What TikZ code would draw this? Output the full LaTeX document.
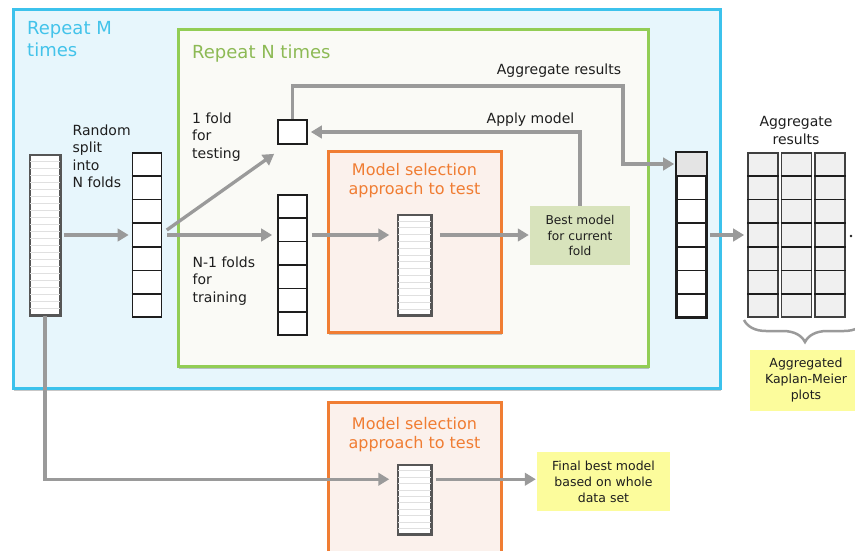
\documentclass[tikz,border=0pt]{standalone}
\usepackage{fontspec}
\setmainfont{DejaVu Sans}
\usetikzlibrary{arrows.meta,calc,shadows,decorations.pathreplacing}

\definecolor{outerblue}{HTML}{3CC2EC}
\definecolor{outerfill}{HTML}{E7F6FC}
\definecolor{innergreen}{HTML}{92CD55}
\definecolor{innerfill}{HTML}{FAFAF6}
\definecolor{selorange}{HTML}{F07D33}
\definecolor{selfill}{HTML}{FBF1EC}
\definecolor{bestfill}{HTML}{D8E3BC}
\definecolor{noteyellow}{HTML}{FCFC9C}
\definecolor{arrowgray}{HTML}{9A9A9A}
\definecolor{aggfill}{HTML}{F0F0F0}
\definecolor{firstfold}{HTML}{E4E4E4}
\definecolor{stripe}{HTML}{E0E0E0}
\definecolor{repM}{HTML}{43C3EA}
\definecolor{repN}{HTML}{8DBA55}
\definecolor{ink}{HTML}{1E1E1E}

% horizontal dividers splitting a column node into equal cells
\newcommand{\splitcells}[3][ink]{%
  \pgfmathtruncatemacro{\lastcut}{#3-1}%
  \foreach \k in {1,...,\lastcut}
    \draw[draw=#1,line width=1.7pt]
      ($(#2.north west)!\k/#3!(#2.south west)$) -- ($(#2.north east)!\k/#3!(#2.south east)$);}
% thin record lines inside a data column
\newcommand{\stripecells}[2]{%
  \foreach \k in {1,...,#2}
    \draw[stripe,line width=0.7pt]
      ($(#1.north west)!\k/(#2+1)!(#1.south west)$) -- ($(#1.north east)!\k/(#2+1)!(#1.south east)$);
  \draw[ink!75,line width=1.5pt] (#1.north west) rectangle (#1.south east);}

\tikzset{
  frame/.style={line width=3pt, inner sep=0pt,
    drop shadow={shadow xshift=1pt, shadow yshift=-2.5pt, opacity=0.22, fill=black}},
  col/.style={draw=ink, line width=1.7pt, fill=white, inner sep=0pt, minimum width=29pt},
  datacol/.style={draw=ink!75, line width=1.5pt, fill=white, inner sep=0pt},
  aggcol/.style={col, fill=aggfill, draw=ink!85},
  arr/.style={draw=arrowgray, line width=3.3pt, -{Triangle[length=11pt,width=12.5pt]}},
  lab/.style={font=\fontsize{14}{17.5}\selectfont, text=ink, inner sep=0pt, align=left, anchor=north west},
  clab/.style={lab, align=center, anchor=north},
  seltitle/.style={font=\fontsize{16}{19.5}\selectfont, text=selorange, inner sep=0pt, align=center, anchor=north},
  reptitle/.style={font=\fontsize{18}{22}\selectfont, inner sep=0pt, align=left, anchor=north west},
  notebox/.style={inner sep=0pt, align=center, text=ink, font=\fontsize{12.5}{16}\selectfont},
}

\begin{document}
\begin{tikzpicture}[x=1pt,y=-1pt]
\useasboundingbox (0,0) rectangle (855,550);
\clip (0,0) rectangle (855,550);
\fill[white] (0,0) rectangle (855,550);

% nested repetition frames
\node[frame, draw=outerblue, fill=outerfill, minimum width=707pt, minimum height=379pt] (outer) at (366.5,198.5) {};
\node[frame, draw=innergreen, fill=innerfill, minimum width=470pt, minimum height=337pt] (inner) at (413,197.5) {};
\node[frame, draw=selorange, fill=selfill, minimum width=173pt, minimum height=181pt] (selA) at (414.5,241.5) {};
\node[frame, draw=selorange, fill=selfill, minimum width=173pt, minimum height=168pt] (selB) at (414.5,486) {};

\node[reptitle, text=repM] (repm) at (27,21) {Repeat M\\times};
\node[reptitle, text=repN] (repn) at (192,45) {Repeat N times};
\node[seltitle] (selAt) at (414.5,163) {Model selection\\approach to test};
\node[seltitle] (selBt) at (414.5,417) {Model selection\\approach to test};

% data and fold columns
\node[datacol, minimum width=30pt, minimum height=160pt] (data) at (45,235) {};
\stripecells{data}{22}
\node[col, minimum height=164pt] (fold) at (147,235) {};
\splitcells{fold}{7}
\node[col, minimum height=24pt] (test) at (292.5,132) {};
\node[col, minimum height=140pt] (train) at (292.5,265) {};
\splitcells{train}{6}
\node[datacol, minimum width=33pt, minimum height=100pt] (mA) at (414.5,265) {};
\stripecells{mA}{14}
\node[datacol, minimum width=33pt, minimum height=69pt] (mB) at (414.5,499.5) {};
\stripecells{mB}{10}

% results of one repetition and their aggregation
\node[col, minimum height=164pt] (res) at (691.5,235) {};
\fill[firstfold] ($(res.north west)+(0.8,0.8)$) rectangle ($(res.north east)!1/7!(res.south east)+(-0.8,0)$);
\draw[ink,line width=1.7pt] (res.north west) rectangle (res.south east);
\splitcells{res}{7}
\foreach \n/\cx in {1/763, 2/796.5, 3/830}{
  \node[aggcol, minimum width=30pt, minimum height=164pt] (agg\n) at (\cx,235) {};
  \splitcells{agg\n}{7}
}
\fill[ink] (851,236) circle (1.4pt);

% annotation boxes
\node[notebox, fill=bestfill, minimum width=100pt, minimum height=59pt, font=\fontsize{12.2}{15.5}\selectfont] (best) at (580,235.5) {Best model\\for current\\fold};
\node[notebox, fill=noteyellow, minimum width=133pt, minimum height=59pt] (final) at (603.5,481.5) {Final best model\\based on whole\\data set};
\node[notebox, fill=noteyellow, minimum width=112pt, minimum height=61pt] (km) at (806,380.5) {Aggregated\\Kaplan-Meier\\plots};

% text labels
\node[lab] (splitlab) at (72.5,124.5) {Random\\split\\into\\N folds};
\node[lab] (testlab) at (192,112.5) {1 fold\\for\\testing};
\node[lab] (trainlab) at (192.5,256.5) {N-1 folds\\for\\training};
\node[clab] (agglab) at (559,63.5) {Aggregate results};
\node[clab] (applylab) at (530.5,112.5) {Apply model};
\node[clab] (aggreslab) at (796,116.5) {Aggregate\\results};

% connectors
\coordinate (aggturn) at (623,86);
\coordinate (rescell) at ($(res.north west)!0.5/7!(res.south west)+(-2,0)$);
\coordinate (fullin) at ($(mB.north west)+(-8,15)$);

\draw[arr] ([xshift=3pt]data.east) -- ([xshift=-3pt]fold.west);
\draw[arr] ($(fold.east)+(4.5,-5)$) -- ($(test.south west)+(-3,9)$);
\draw[arr] ([xshift=5pt]fold.east) -- ([xshift=-5pt]fold.east -| train.west);
\draw[arr] ([xshift=4pt]fold.east -| train.east) -- ([xshift=-8pt]fold.east -| mA.west);
\draw[arr] ([xshift=8pt]fold.east -| mA.east) -- ([xshift=-1pt]fold.east -| best.west);
\draw[arr] (best.north) |- ([xshift=3pt]test.east);
\draw[arr] (test.north) |- (aggturn) |- (rescell);
\draw[arr] ([xshift=3pt]res.east) -- ([xshift=-3pt]agg1.west);
\draw[arr] (data.south) |- (fullin);
\draw[arr] ([xshift=4pt]mB.east |- fullin) -- ([xshift=-1pt]final.west |- fullin);

% brace gathering the repetitions
\draw[arrowgray, line width=2.5pt, decorate, decoration={brace, amplitude=22pt, mirror}] (744,320) -- (866,320);
\end{tikzpicture}
\end{document}
